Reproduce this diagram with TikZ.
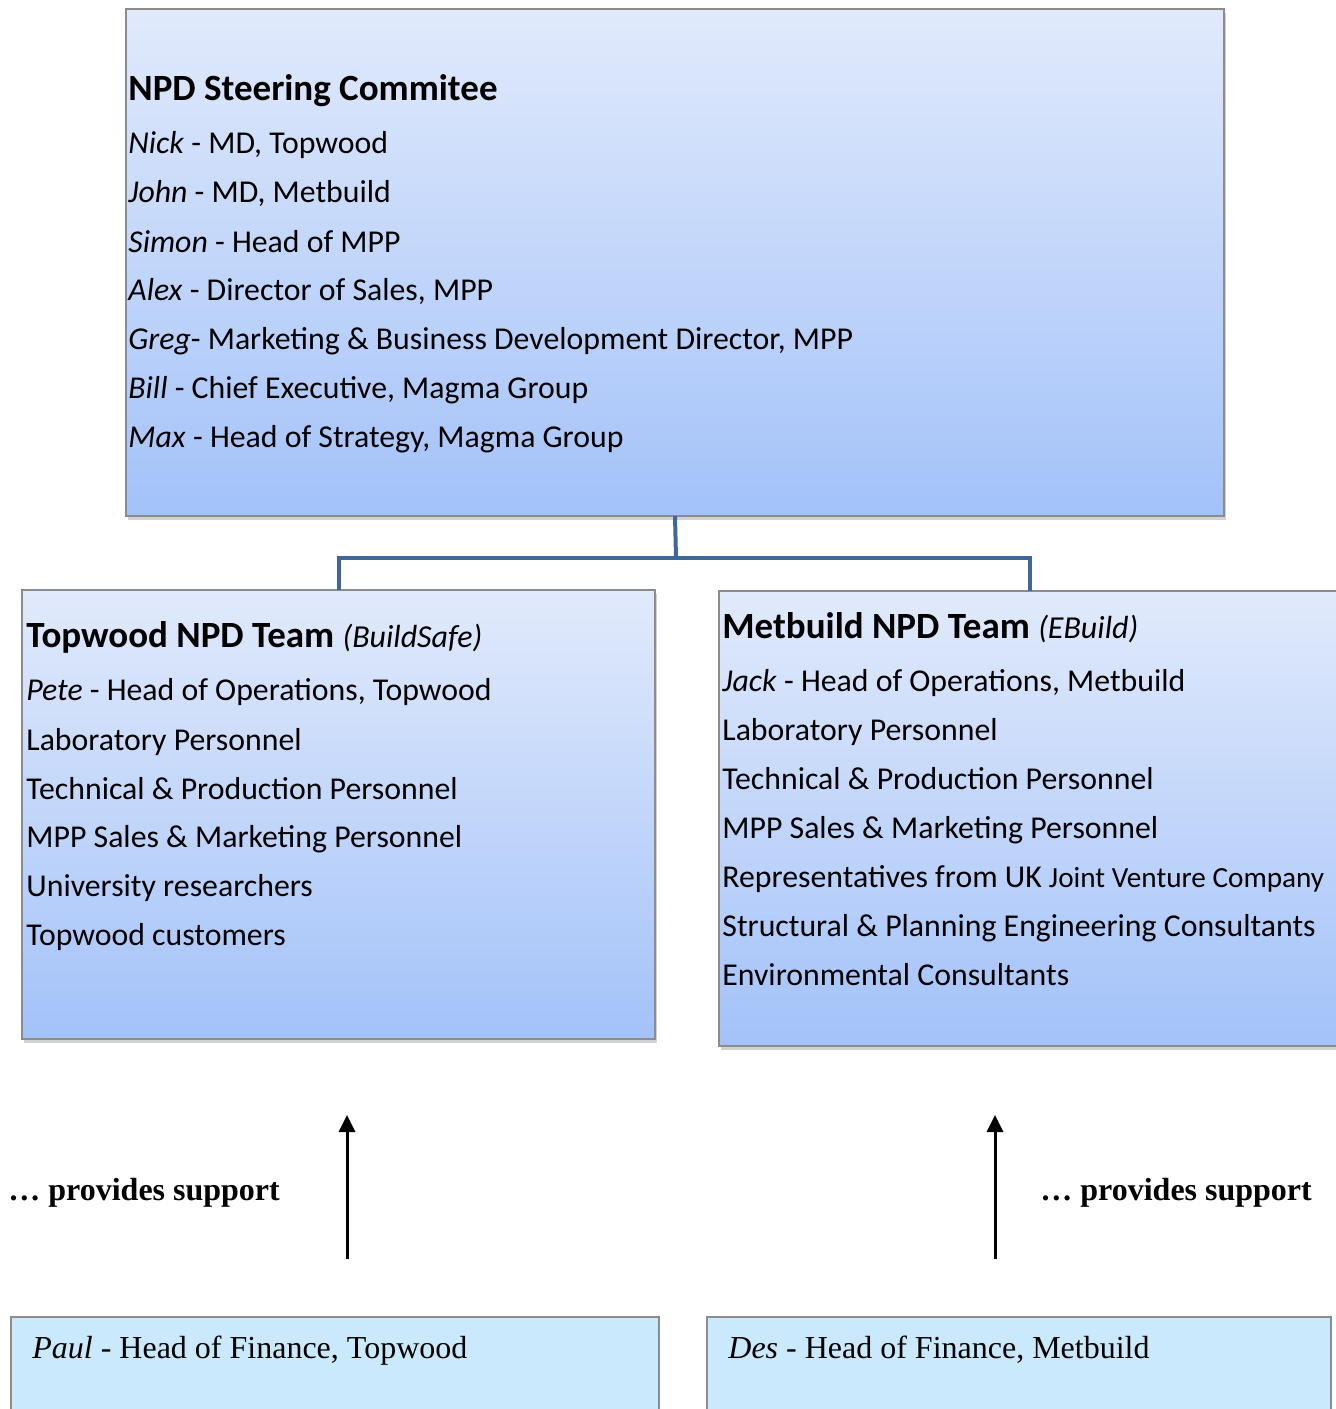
\documentclass[tikz,border=0pt]{standalone}
\usepackage{fontspec}
\setmainfont{Carlito}
\newfontfamily\tnr{Liberation Serif}
\usetikzlibrary{shadows,arrows.meta}
\definecolor{gtop}{HTML}{E1EAFB}
\definecolor{gbot}{HTML}{A3C2F9}
\definecolor{framec}{HTML}{8C8C8C}
\definecolor{conn}{HTML}{3F6899}
\definecolor{fin}{HTML}{CBE9FC}
\begin{document}
\begin{tikzpicture}[x=0.5pt,y=-0.5pt,
  bluebox/.style={draw=framec, line width=0.7pt, top color=gtop, bottom color=gbot,
    anchor=north west, inner sep=0pt, outer sep=0pt,
    drop shadow={shadow xshift=1pt, shadow yshift=-1.8pt, opacity=0.35}},
  finbox/.style={draw=framec, line width=0.7pt, fill=fin, anchor=north west, inner sep=0pt, outer sep=0pt},
  body/.style={anchor=base west, inner sep=0pt, font=\fontsize{15.9pt}{19pt}\selectfont},
  ttl/.style={anchor=base west, inner sep=0pt, font=\fontsize{18.5pt}{22pt}\selectfont},
  serifb/.style={anchor=base west, inner sep=0pt, font=\tnr\bfseries\fontsize{16pt}{19pt}\selectfont},
  serift/.style={anchor=base west, inner sep=0pt, font=\tnr\fontsize{16pt}{19pt}\selectfont},
  conline/.style={draw=conn, line width=2pt},
  suparrow/.style={draw=black, line width=1.5pt, -{Triangle[length=8.5pt,width=8pt]}}]
\useasboundingbox (0,0) rectangle (1336,1409);
\clip (0,0) rectangle (1336,1409);
\fill[white] (0,0) rectangle (1336,1409);

% boxes
\node[bluebox, minimum width=549pt, minimum height=253.5pt] (top) at (126,9) {};
\node[bluebox, minimum width=316.5pt, minimum height=224.5pt] (left) at (22,590) {};
\node[bluebox, minimum width=311pt, minimum height=227.5pt] (right) at (719,591) {};
\node[finbox, minimum width=324pt, minimum height=100pt] (paul) at (11,1317) {};
\node[finbox, minimum width=312pt, minimum height=100pt] (des) at (707,1317) {};

% connectors
\coordinate (j) at (676,558);
\draw[conline] (top.south) -- (j);
\draw[conline] (left.north) |- (j) -| (right.north);

% top text
\node[ttl] (t0) at (128,100) {\textbf{NPD Steering Commitee}};
\node[body] (t1) at (128,153) {\textit{Nick} - MD, Topwood};
\node[body] (t2) at (128,202) {\textit{John} - MD, Metbuild};
\node[body] (t3) at (128,252) {\textit{Simon} - Head of MPP};
\node[body] (t4) at (128,300) {\textit{Alex} - Director of Sales, MPP};
\node[body] (t5) at (128,349) {\textit{Greg}- Marketing \& Business Development Director, MPP};
\node[body] (t6) at (128,398) {\textit{Bill} - Chief Executive,  Magma Group};
\node[body] (t7) at (128,447) {\textit{Max} - Head of Strategy, Magma Group};

% left text
\node[ttl] (l0) at (26,647) {\textbf{Topwood NPD Team} {\fontsize{16pt}{19pt}\selectfont\textit{(BuildSafe)}}};
\node[body] (l1) at (26,700) {\textit{Pete} - Head of Operations, Topwood};
\node[body] (l2) at (26,750) {Laboratory Personnel};
\node[body] (l3) at (26,799) {Technical \& Production Personnel};
\node[body] (l4) at (26,847) {MPP Sales \& Marketing Personnel};
\node[body] (l5) at (26,896) {University researchers};
\node[body] (l6) at (26,945) {Topwood customers};

% right text
\node[ttl] (r0) at (722,638) {\textbf{Metbuild NPD Team} {\fontsize{16pt}{19pt}\selectfont\textit{(EBuild)}}};
\node[body] (r1) at (722,691) {\textit{Jack} - Head of Operations, Metbuild};
\node[body] (r2) at (722,740) {Laboratory Personnel};
\node[body] (r3) at (722,789) {Technical \& Production Personnel};
\node[body] (r4) at (722,838) {MPP Sales \& Marketing Personnel};
\node[body] (r5) at (722,887) {Representatives from UK {\fontsize{14.6pt}{17pt}\selectfont Joint Venture Company}};
\node[body] (r6) at (722,936) {Structural \& Planning Engineering Consultants};
\node[body] (r7) at (722,985) {Environmental Consultants};

% support arrows
\coordinate (a1s) at (347,1259);
\coordinate (a1e) at (347,1115);
\coordinate (a2s) at (995,1259);
\coordinate (a2e) at (995,1115);
\draw[suparrow] (a1s) -- (a1e);
\draw[suparrow] (a2s) -- (a2e);
\node[serifb] (s1) at (8,1200) {… provides support};
\node[serifb] (s2) at (1040,1200) {… provides support};

% finance text
\node[serift] (p1) at (32,1358) {\textit{Paul} - Head of Finance, Topwood};
\node[serift] (d1) at (728,1358) {\textit{Des} - Head of Finance, Metbuild};
\end{tikzpicture}
\end{document}
